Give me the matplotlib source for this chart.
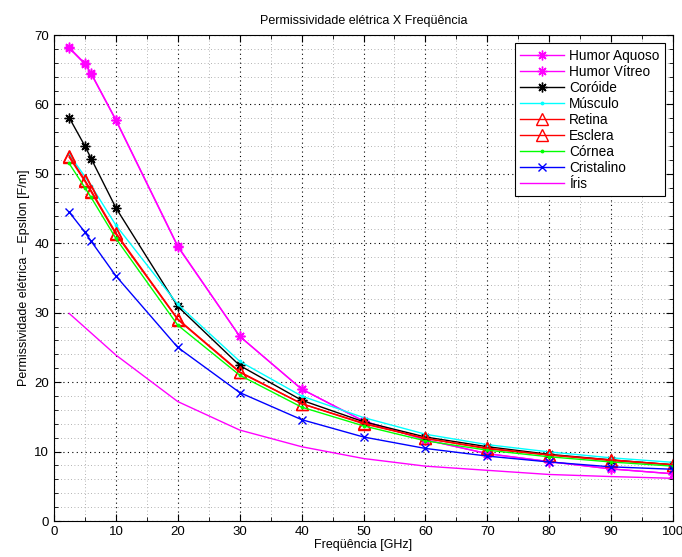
import matplotlib
matplotlib.use("Agg")
import matplotlib.pyplot as plt
from matplotlib.ticker import MultipleLocator

plt.rcParams['font.family'] = ['Liberation Sans', 'DejaVu Sans']

freq = [2.45, 5, 6, 10, 20, 30, 40, 50, 60, 70, 80, 90, 100]
freq_iris = [2.45, 10, 20, 30, 40, 50, 60, 70, 80, 90, 100]

humor_aquoso = [68.2, 65.9, 64.5, 57.8, 39.6, 26.6, 19.0, 14.4, 11.7, 9.7, 8.55, 7.5, 6.8]
humor_vitreo = [68.1, 65.8, 64.4, 57.7, 39.5, 26.6, 19.0, 14.4, 11.7, 9.7, 8.55, 7.5, 6.8]
coroide = [58.1, 54.0, 52.2, 45.1, 30.9, 22.4, 17.4, 14.3, 12.1, 10.7, 9.6, 8.8, 8.1]
musculo = [52.8, 49.6, 48.3, 42.6, 31.2, 23.0, 18.0, 14.9, 12.5, 11.0, 9.95, 9.1, 8.45]
retina = [52.6, 49.1, 47.6, 41.5, 29.1, 21.5, 16.9, 14.1, 11.9, 10.5, 9.5, 8.8, 8.1]
esclera = [52.4, 48.9, 47.4, 41.3, 29.0, 21.4, 16.9, 14.0, 11.9, 10.4, 9.5, 8.7, 8.1]
cornea = [51.5, 48.0, 46.6, 40.7, 28.2, 21.0, 16.4, 13.7, 11.55, 10.2, 9.25, 8.5, 7.9]
cristalino = [44.5, 41.6, 40.3, 35.3, 25.0, 18.5, 14.6, 12.1, 10.45, 9.35, 8.5, 7.8, 7.45]
iris = [29.9, 23.9, 17.2, 13.1, 10.7, 9.0, 7.9, 7.3, 6.7, 6.4, 6.15]

labels = ['Humor Aquoso', 'Humor Vítreo', 'Coróide', 'Músculo', 'Retina',
          'Esclera', 'Córnea', 'Cristalino', 'Íris']

fig = plt.figure(figsize=(6.82, 5.57), dpi=100)
ax = fig.add_axes([54/682, 1-521/557, (673-54)/682, (521-35)/557])

star = (8, 2, 0)
ax.plot(freq, humor_aquoso, color='#ff00ff', marker=star, ms=7, mew=1, lw=1, label=labels[0])
ax.plot(freq, humor_vitreo, color='#ff00ff', marker=star, ms=7, mew=1, lw=1, label=labels[1])
ax.plot(freq, coroide, color='black', marker=star, ms=7, mew=1, lw=1, label=labels[2])
ax.plot(freq, musculo, color='#00ffff', marker='.', ms=3.5, lw=1, label=labels[3])
ax.plot(freq, retina, color='red', marker='^', ms=8, mfc='none', mew=1, lw=1, label=labels[4])
ax.plot(freq, esclera, color='red', marker='^', ms=8, mfc='none', mew=1, lw=1, label=labels[5])
ax.plot(freq, cornea, color='#00ff00', marker='.', ms=3.5, lw=1, label=labels[6])
ax.plot(freq, cristalino, color='blue', marker='x', ms=6, mew=1, lw=1, label=labels[7])
ax.plot(freq_iris, iris, color='#ff00ff', lw=1, label=labels[8])

ax.set_xlim(0, 100)
ax.set_ylim(0, 70)
ax.xaxis.set_major_locator(MultipleLocator(10))
ax.yaxis.set_major_locator(MultipleLocator(10))
ax.xaxis.set_minor_locator(MultipleLocator(5))
ax.yaxis.set_minor_locator(MultipleLocator(2))
ax.grid(which='major', color='black', linestyle=(0, (1, 3)), lw=0.8)
ax.grid(which='minor', color='#999999', linestyle=(0, (1, 3)), lw=0.6)
ax.set_axisbelow(True)
ax.tick_params(which='both', direction='in', top=True, right=True, labelsize=9.5)
ax.tick_params(which='major', length=5)
ax.tick_params(which='minor', length=3)
for s in ax.spines.values():
    s.set_linewidth(0.8)

ax.set_title('Permissividade elétrica X Freqüência', fontsize=9, pad=8)
ax.set_xlabel('Freqüência [GHz]', fontsize=9, labelpad=1)
ax.set_ylabel('Permissividade elétrica – Epsilon [F/m]', fontsize=9, labelpad=3)

leg = ax.legend(loc='upper right', fontsize=9.8, handlelength=3.2, labelspacing=0.15,
                borderpad=0.4, handletextpad=0.4, fancybox=False, framealpha=1,
                edgecolor='black', borderaxespad=0.6)
leg.get_frame().set_linewidth(0.8)

fig.savefig('out.png', dpi=100)
